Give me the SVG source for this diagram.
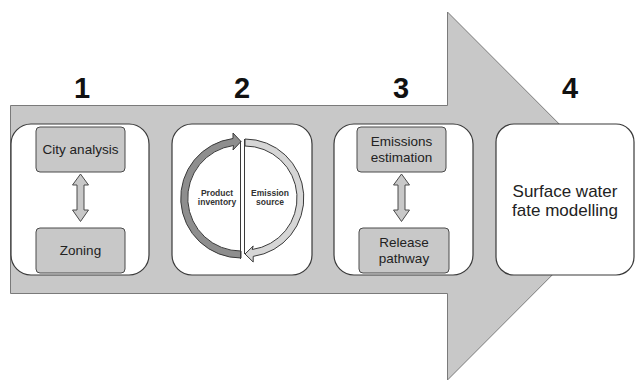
<svg xmlns="http://www.w3.org/2000/svg" width="635" height="383" viewBox="0 0 635 383">
<style>
.panel{fill:#ffffff;stroke:#3a3a3a;stroke-width:1.2}
.box{fill:#c8c8c8;stroke:#4a4a4a;stroke-width:1}
.dbl{fill:#c8c8c8;stroke:#4a4a4a;stroke-width:1}
.num{font-family:"Liberation Sans",Arial,sans-serif;font-weight:bold;font-size:29px;fill:#111;text-anchor:middle}
.t{font-family:"Liberation Sans",Arial,sans-serif;font-size:13.5px;fill:#222;text-anchor:middle}
.big{font-family:"Liberation Sans",Arial,sans-serif;font-size:17px;fill:#222;text-anchor:middle}
.sm{font-family:"Liberation Sans",Arial,sans-serif;font-weight:bold;font-size:8.5px;fill:#333;text-anchor:middle}
</style>
<rect width="635" height="383" fill="#ffffff"/>
<g id="main-arrow">
<path d="M10.5,105.5 L447.5,105.5 L447.5,12 L631,196 L447.5,380 L447.5,293.5 L10.5,293.5 Z" fill="#c8c8c8" stroke="#7a7a7a" stroke-width="1"/>
</g>
<g id="labels">
<text class="num" x="82" y="98">1</text>
<text class="num" x="242" y="98">2</text>
<text class="num" x="401" y="98">3</text>
<text class="num" x="570" y="98">4</text>
</g>
<g id="panel1">
<rect class="panel" x="11" y="124" width="138" height="151" rx="20"/>
<g id="city-analysis">
<rect class="box" x="36" y="127" width="89" height="45" rx="4"/>
<text class="t" x="80.5" y="154">City analysis</text>
</g>
<g id="zoning">
<rect class="box" x="36" y="228" width="89" height="45" rx="4"/>
<text class="t" x="80.5" y="255">Zoning</text>
</g>
</g>
<g id="panel2">
<rect class="panel" x="172" y="124" width="140" height="151" rx="20"/>
<g id="product-inventory">
<path d="M241,258 A60,60 0 0 1 233,138.5 L233,133 L241,141.5 L233,150 L233.5,145.5 A53,53 0 0 0 241,251 Z" fill="#8e8e8e" stroke="#3a3a3a" stroke-width="1"/>
<line x1="240.5" y1="141" x2="240.5" y2="259" stroke="#3a3a3a" stroke-width="1"/>
<text class="sm" x="217" y="195.5">Product</text>
<text class="sm" x="217" y="204.5">inventory</text>
</g>
<g id="emission-source">
<path d="M245,139 A59,59 0 0 1 253.2,256.4 L253.2,262 L245,254 L253.2,246 L252.2,249.5 A52,52 0 0 0 245,146 Z" fill="#d6d6d6" stroke="#3a3a3a" stroke-width="1"/>
<line x1="244.5" y1="139" x2="244.5" y2="254" stroke="#3a3a3a" stroke-width="1"/>
<text class="sm" x="270" y="195.5">Emission</text>
<text class="sm" x="270" y="204.5">source</text>
</g>
</g>
<g id="panel3">
<rect class="panel" x="334" y="124" width="139" height="151" rx="20"/>
<g id="emissions-estimation">
<rect class="box" x="357" y="127" width="89" height="45" rx="4"/>
<text class="t" x="401.5" y="146">Emissions</text>
<text class="t" x="401.5" y="162">estimation</text>
</g>
<g id="release-pathway">
<rect class="box" x="359" y="228" width="90" height="45" rx="4"/>
<text class="t" x="404" y="247">Release</text>
<text class="t" x="404" y="263">pathway</text>
</g>
</g>
<g id="panel4">
<rect class="panel" x="496" y="124" width="138" height="151" rx="18"/>
<text class="big" x="565" y="197">Surface water</text>
<text class="big" x="565" y="216">fate modelling</text>
</g>
<g id="connectors">
<path class="dbl" d="M80.5,174 L88.5,185 L84,185 L84,210 L88.5,210 L80.5,221.5 L72.5,210 L77,210 L77,185 L72.5,185 Z"/>
<path class="dbl" d="M401.5,174 L409.5,185 L405,185 L405,210 L409.5,210 L401.5,221.5 L393.5,210 L398,210 L398,185 L393.5,185 Z"/>
</g>
</svg>
